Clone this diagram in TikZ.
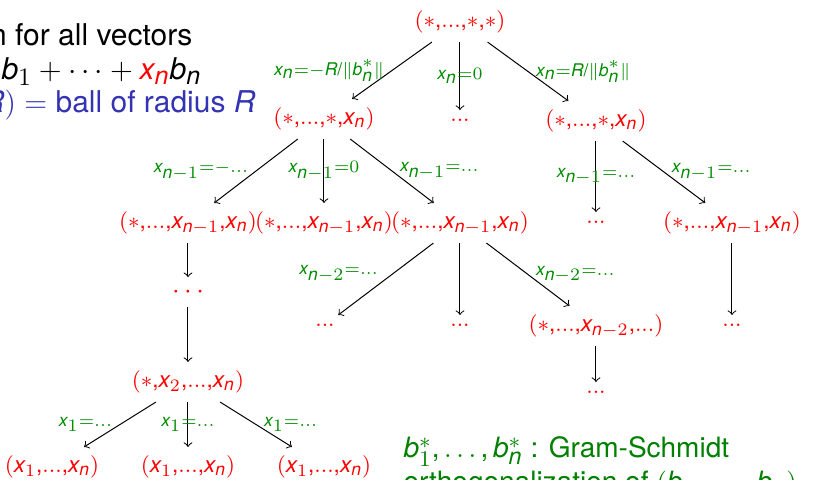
\documentclass[tikz,border=0pt,11pt]{standalone}
\usepackage{fontspec}
\setmainfont{TeX Gyre Heros}
\setsansfont{TeX Gyre Heros}
\usepackage[italic]{mathastext}
\usetikzlibrary{positioning}
\colorlet{tuplered}{red}
\definecolor{labelgreen}{RGB}{0,140,0}
\definecolor{notegreen}{RGB}{0,128,0}
\definecolor{structblue}{RGB}{51,51,179}
\newcommand{\tup}[1]{$\scriptstyle #1$}
\newcommand{\lbl}[1]{$\scriptscriptstyle #1$}
\newcommand{\mn}{\mathchar"2200\relax}
\tikzset{
    tuple/.style={
        text=tuplered, inner sep=3.33pt,
    },
    branch/.style={
        ->, draw=black,
    },
    choice/.style={
        text=labelgreen, inner sep=1pt,
    },
    slidetext/.style={
        font=\fontsize{12}{14.5}\selectfont, inner sep=0pt,
    },
    notetext/.style={
        font=\fontsize{11.2}{13.6}\selectfont, inner sep=0pt,
        text=notegreen, anchor=base west,
    },
}
\begin{document}
\begin{tikzpicture}[x=0.4pt, y=-0.4pt]
\clip (0,0) rectangle (816,480);

% =============================================
% Slide text (cut by the frame)
% =============================================
\node[slidetext, anchor=base east] (search) at (193,45) {Search for all vectors};
\node[slidetext, anchor=base east] (combo) at (202,80)
    {$\textcolor{tuplered}{x_1}b_1+\cdots+\textcolor{tuplered}{x_n}b_n$};
\node[slidetext, anchor=base east, text=structblue] (ball) at (256,113)
    {$B(R)=$ ball of radius $R$};

\node[notetext] (gs) at (403,458) {$b_1^*,\ldots,b_n^*$ : Gram-Schmidt};
\node[notetext] (gsline) at (403,492) {orthogonalization of $(b_1,\ldots,b_n)$};

% =============================================
% Level 0 and 1
% =============================================
\node[tuple] (root) at (460,22) {\tup{(\ast,\ldots,\ast,\ast)}};
\node[tuple] (a1) at (324,119) {\tup{(\ast,\ldots,\ast,x_n)}};
\node[tuple] (a2) at (460,120) {\tup{\ldots}};
\node[tuple] (a3) at (596,121) {\tup{(\ast,\ldots,\ast,x_n)}};

% =============================================
% Level 2
% =============================================
\node[tuple] (b1) at (188,223) {\tup{(\ast,\ldots,x_{n\mn1},x_n)}};
\node[tuple] (b2) at (324,223) {\tup{(\ast,\ldots,x_{n\mn1},x_n)}};
\node[tuple] (b3) at (460,223) {\tup{(\ast,\ldots,x_{n\mn1},x_n)}};
\node[tuple] (b4) at (596,222) {\tup{\ldots}};
\node[tuple] (b5) at (732,223) {\tup{(\ast,\ldots,x_{n\mn1},x_n)}};

% =============================================
% Level 3 and below
% =============================================
\node[tuple] (c1) at (188,292) {$\cdots$};
\node[tuple] (c2) at (325,325) {\tup{\ldots}};
\node[tuple] (c3) at (460,325) {\tup{\ldots}};
\node[tuple] (c4) at (596,326) {\tup{(\ast,\ldots,x_{n\mn2},\ldots)}};
\node[tuple] (c5) at (732,325) {\tup{\ldots}};
\node[tuple] (d1) at (596,392) {\tup{\ldots}};

\node[tuple] (e0) at (188,382) {\tup{(\ast,x_2,\ldots,x_n)}};
\node[tuple] (f1) at (52,467) {\tup{(x_1,\ldots,x_n)}};
\node[tuple] (f2) at (188,467) {\tup{(x_1,\ldots,x_n)}};
\node[tuple] (f3) at (324,467) {\tup{(x_1,\ldots,x_n)}};

% =============================================
% Branches
% =============================================
\draw[branch] (root) -- node[choice, left=2pt] {\lbl{x_n=\mn R/\|b_n^*\|}} (a1);
\draw[branch] (root) -- node[choice] {\lbl{x_n=0}} (a2);
\draw[branch] (root) -- node[choice, right=2pt] {\lbl{x_n=R/\|b_n^*\|}} (a3);

\draw[branch] (a1) -- node[choice, left=2pt] {\lbl{x_{n\mn1}=\mn\ldots}} (b1);
\draw[branch] (a1) -- node[choice] {\lbl{x_{n\mn1}=0}} (b2);
\draw[branch] (a1) -- node[choice, right=2pt] {\lbl{x_{n\mn1}=\ldots}} (b3);

\draw[branch] (a3) -- node[choice] {\lbl{x_{n\mn1}=\ldots}} (b4);
\draw[branch] (a3) -- node[choice, right=2pt] {\lbl{x_{n\mn1}=\ldots}} (b5);

\draw[branch] (b3) -- node[choice, left=2pt, yshift=2pt] {\lbl{x_{n\mn2}=\ldots}} (c2);
\draw[branch] (b3) -- (c3);
\draw[branch] (b3) -- node[choice, right=2pt] {\lbl{x_{n\mn2}=\ldots}} (c4);
\draw[branch] (b5) -- (c5);
\draw[branch] (c4) -- (d1);

\draw[branch] (b1) -- (c1);
\draw[branch] (c1) -- (e0);

\draw[branch] (e0) -- node[choice, left=2pt] {\lbl{x_1=\ldots}} (f1);
\draw[branch] (e0) -- node[choice] {\lbl{x_1=\ldots}} (f2);
\draw[branch] (e0) -- node[choice, right=2pt] {\lbl{x_1=\ldots}} (f3);

\end{tikzpicture}
\end{document}
